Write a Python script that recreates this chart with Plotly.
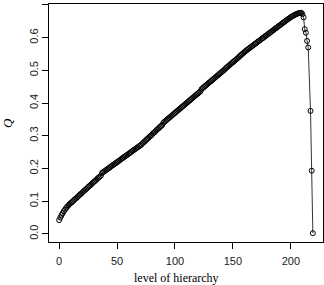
import plotly.graph_objects as go

# level of hierarchy (x) and modularity Q (y)
levels = list(range(0, 216)) + [217, 218, 219]
q_values = [
    0.042, 0.050, 0.057, 0.063, 0.069, 0.074, 0.079, 0.083, 0.087, 0.091,
    0.094, 0.097, 0.100, 0.104, 0.107, 0.110, 0.113, 0.117, 0.120, 0.123,
    0.126, 0.130, 0.133, 0.136, 0.139, 0.143, 0.146, 0.149, 0.152, 0.156,
    0.159, 0.162, 0.165, 0.169, 0.172, 0.175, 0.178, 0.186, 0.189, 0.191,
    0.194, 0.196, 0.199, 0.201, 0.204, 0.207, 0.209, 0.212, 0.214, 0.217,
    0.219, 0.222, 0.224, 0.227, 0.230, 0.232, 0.235, 0.237, 0.240, 0.242,
    0.245, 0.247, 0.250, 0.253, 0.255, 0.258, 0.260, 0.263, 0.265, 0.268,
    0.270, 0.273, 0.277, 0.280, 0.283, 0.287, 0.290, 0.293, 0.297, 0.300,
    0.303, 0.307, 0.310, 0.313, 0.317, 0.320, 0.323, 0.327, 0.330, 0.333,
    0.340, 0.343, 0.346, 0.349, 0.352, 0.355, 0.358, 0.361, 0.364, 0.367,
    0.370, 0.373, 0.376, 0.379, 0.382, 0.385, 0.388, 0.391, 0.394, 0.397,
    0.400, 0.403, 0.406, 0.409, 0.412, 0.415, 0.418, 0.421, 0.424, 0.427,
    0.430, 0.433, 0.436, 0.443, 0.446, 0.449, 0.452, 0.455, 0.458, 0.461,
    0.464, 0.467, 0.470, 0.473, 0.476, 0.479, 0.482, 0.485, 0.488, 0.491,
    0.494, 0.497, 0.500, 0.503, 0.507, 0.510, 0.513, 0.516, 0.519, 0.522,
    0.525, 0.528, 0.531, 0.534, 0.537, 0.540, 0.544, 0.547, 0.550, 0.553,
    0.556, 0.559, 0.562, 0.565, 0.567, 0.570, 0.573, 0.575, 0.578, 0.581,
    0.583, 0.586, 0.589, 0.591, 0.594, 0.597, 0.599, 0.602, 0.605, 0.607,
    0.610, 0.613, 0.615, 0.618, 0.621, 0.623, 0.626, 0.629, 0.631, 0.634,
    0.637, 0.639, 0.642, 0.645, 0.647, 0.650, 0.653, 0.655, 0.658, 0.660,
    0.663, 0.665, 0.667, 0.669, 0.671, 0.672, 0.674, 0.675, 0.676, 0.676,
    0.672, 0.662, 0.626, 0.615, 0.590, 0.570,
    0.376, 0.193, 0.002,
]

x_ticks = [0, 50, 100, 150, 200]
y_ticks = [0.0, 0.1, 0.2, 0.3, 0.4, 0.5, 0.6, 0.7]
y_tick_labels = ["0.0", "0.1", "0.2", "0.3", "0.4", "0.5", "0.6", "0.7"]

x_title = "level of hierarchy"
y_title = "Q"

fig = go.Figure()
fig.add_trace(go.Scatter(
    x=levels, y=q_values, mode="lines+markers",
    line=dict(color="black", width=0.8),
    marker=dict(symbol="circle-open", size=5, color="black", line=dict(width=1, color="black")),
    showlegend=False,
))

# R-style 4% axis extension
xr = max(levels) - min(levels)
yr = max(q_values) - min(q_values)
fig.update_xaxes(
    range=[min(levels) - 0.04 * xr, max(levels) + 0.04 * xr],
    tickmode="array", tickvals=x_ticks, ticktext=[str(v) for v in x_ticks],
    ticks="outside", ticklen=6, tickwidth=1, tickcolor="black",
    showline=True, linecolor="black", linewidth=1, mirror=True,
    showgrid=False, zeroline=False, ticklabelstandoff=3,
    tickfont=dict(family="Liberation Sans, Arial", size=11, color="#222"),
)
fig.update_yaxes(
    range=[min(q_values) - 0.04 * yr, max(q_values) + 0.04 * yr],
    tickmode="array", tickvals=y_ticks, ticktext=y_tick_labels,
    ticks="outside", ticklen=6, tickwidth=1, tickcolor="black",
    showline=True, linecolor="black", linewidth=1, mirror=True,
    showgrid=False, zeroline=False, tickangle=-90,
    tickfont=dict(family="Liberation Sans, Arial", size=11, color="#222"),
)

fig.add_annotation(text=x_title, xref="paper", yref="paper", x=0.467, y=0,
                   yshift=-36, showarrow=False, xanchor="center", yanchor="middle",
                   font=dict(family="Liberation Serif, Times New Roman", size=12, color="black"))
fig.add_annotation(text="<i>" + y_title + "</i>", xref="paper", yref="paper", x=0, y=0.5,
                   xshift=-42, showarrow=False, textangle=-90, xanchor="center", yanchor="middle",
                   font=dict(family="Liberation Serif, Times New Roman", size=13, color="black"))

fig.update_layout(
    width=324, height=285,
    margin=dict(l=49, r=1, t=4, b=43),
    plot_bgcolor="white", paper_bgcolor="white",
)

fig.write_html(
    "out.html",
    config={"displayModeBar": False},
    post_script="document.body.style.margin='0';document.body.style.overflow='hidden';",
)
